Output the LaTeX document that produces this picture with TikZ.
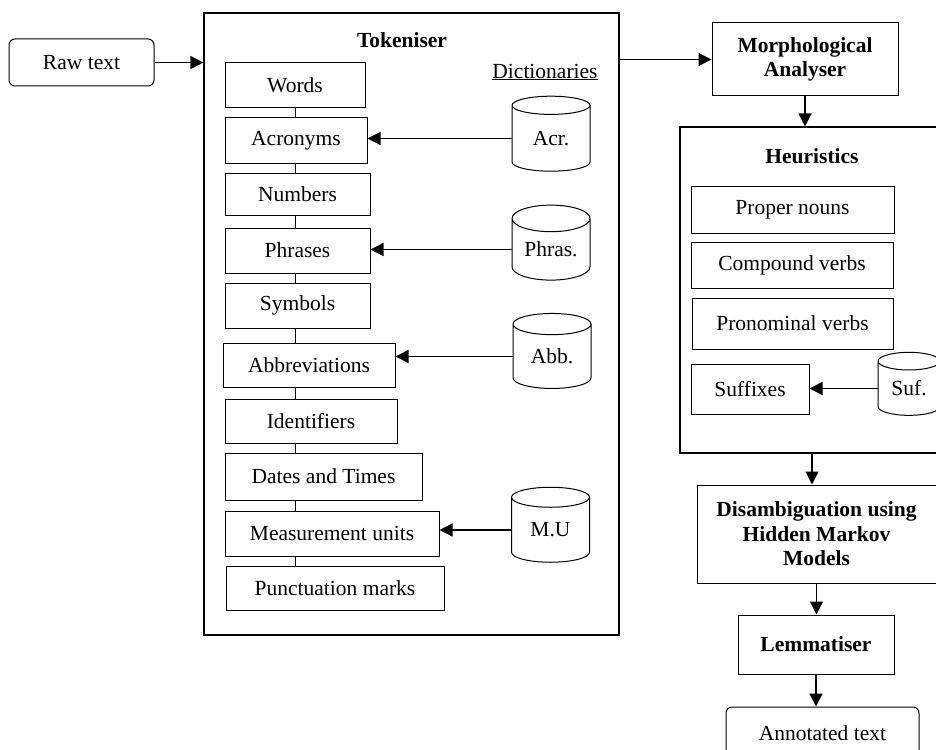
\documentclass[tikz,border=0pt]{standalone}
\usepackage{fontspec}
\setmainfont{Liberation Serif}
\usetikzlibrary{shapes.geometric}
\usetikzlibrary{arrows.meta}

\tikzset{
  box/.style={draw, line width=1pt, inner sep=0pt, align=center},
  bigbox/.style={draw, line width=1.1pt, inner sep=0pt},
  roundbox/.style={box, rounded corners=6pt},
  bold/.style={font=\fontsize{21.5}{24.5}\selectfont\bfseries},
  dict/.style={draw, line width=1pt, cylinder, shape border rotate=90, aspect=0.5,
    minimum width=78pt, minimum height=75pt, inner sep=0pt},
  arr/.style={line width=1.2pt, -{Triangle[length=13pt,width=13pt]}},
  link/.style={line width=1pt},
}

\begin{document}
\begin{tikzpicture}[x=1pt, y=-1pt, font=\fontsize{21.5}{24}\selectfont]
  \useasboundingbox (0,0) rectangle (936,749);

  \node[roundbox, minimum width=145pt, minimum height=47pt] (raw) at (81.5,62.5) {Raw text};

  % tokeniser and its steps
  \node[bigbox, minimum width=415pt, minimum height=622pt] (tok) at (411.5,324) {};
  \node[bold] (toktitle) at (402,40) {Tokeniser};
  \node (dicts) at (545,72) {\underline{Dictionaries}};

  \node[box, minimum width=140pt, minimum height=45pt] (words) at (295,85.5) {Words};
  \node[box, minimum width=142pt, minimum height=45pt] (acronyms) at (296,140.5) {Acronyms};
  \node[box, minimum width=145pt, minimum height=42pt] (numbers) at (297.5,194) {Numbers};
  \node[box, minimum width=145pt, minimum height=45pt] (phrases) at (297.5,250.5) {Phrases};
  \node[box, minimum width=145pt, minimum height=45pt] (symbols) at (297.5,305.5) {Symbols};
  \node[box, minimum width=172pt, minimum height=44pt] (abbrev) at (309,365) {Abbreviations};
  \node[box, minimum width=172pt, minimum height=44pt] (idents) at (311,421) {Identifiers};
  \node[box, minimum width=197pt, minimum height=47pt] (dates) at (323.5,476.5) {Dates and Times};
  \node[box, minimum width=214pt, minimum height=45pt] (units) at (332,533.5) {Measurement units};
  \node[box, minimum width=218pt, minimum height=44pt] (punct) at (335,588) {Punctuation marks};

  \foreach \a/\b in {words/acronyms, acronyms/numbers, numbers/phrases, phrases/symbols,
      symbols/abbrev, abbrev/idents, idents/dates, dates/units, units/punct}
    \draw[link] (\a.south -| words) -- (\b.north -| words);

  % dictionaries
  \node[dict] (acr) at (551,138.5) {Acr.};
  \node[dict] (phr) at (551,249.5) {Phras.};
  \node[dict] (abb) at (552,356.5) {Abb.};
  \node[dict] (mu) at (550.5,530) {M.U};

  \draw[arr] (acr.west) -- (acr.west -| acronyms.east);
  \draw[arr] (phr.west) -- (phr.west -| phrases.east);
  \draw[arr] (abb.west) -- (abb.west -| abbrev.east);
  \draw[arr] (mu.west) -- (mu.west -| units.east);

  % analyser side
  \node[box, bold, minimum width=186pt, minimum height=73pt] (morph) at (805,59.5) {Morphological\\Analyser};
  \node[bigbox, minimum width=270pt, minimum height=326pt] (heur) at (815,290) {};
  \node[bold] (heurtitle) at (812,156) {Heuristics};

  \node[box, minimum width=203pt, minimum height=47pt] (proper) at (792.5,209.5) {Proper nouns};
  \node[box, minimum width=202pt, minimum height=46pt] (compound) at (792,265) {Compound verbs};
  \node[box, minimum width=201pt, minimum height=51pt] (pronom) at (792.5,323.5) {Pronominal verbs};
  \node[box, minimum width=118pt, minimum height=50pt] (suffixes) at (750,389) {Suffixes};
  \node[dict, minimum width=62pt, minimum height=63pt] (suf) at (909,388.5) {Suf.};
  \draw[arr] (suf.west) -- (suf.west -| suffixes.east);

  \node[box, bold, minimum width=239pt, minimum height=98pt] (hmm) at (816.5,534) {Disambiguation using\\Hidden Markov\\Models};
  \node[box, bold, minimum width=156pt, minimum height=59pt] (lemma) at (816,644.5) {Lemmatiser};
  \node[roundbox, minimum width=193pt, minimum height=53pt] (annot) at (822.5,733.5) {Annotated text};

  \draw[arr] (raw.east) -- (raw.east -| tok.west);
  \draw[arr] (morph.west -| tok.east) -- (morph.west);
  \draw[arr] (morph.south) -- (morph.south |- heur.north);
  \draw[arr] (heur.south -| heurtitle) -- (heurtitle |- hmm.north);
  \draw[arr] (hmm.south) -- (hmm.south |- lemma.north);
  \draw[arr] (lemma.south) -- (lemma.south |- annot.north);
\end{tikzpicture}
\end{document}
